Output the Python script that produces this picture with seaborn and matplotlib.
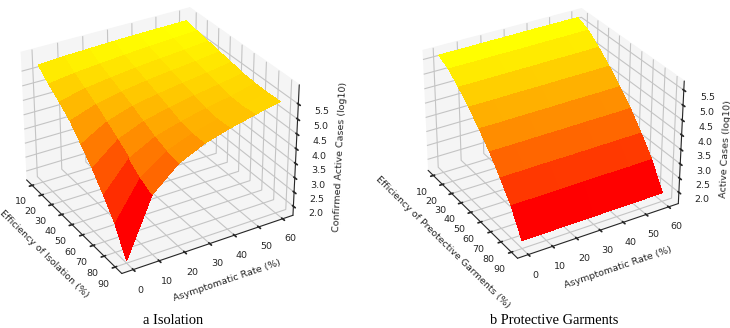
import numpy as np
import matplotlib
matplotlib.use("Agg")
import matplotlib.pyplot as plt
import seaborn as sns

efficiency = [10, 20, 30, 40, 50, 60, 70, 80, 90]
asymptomatic = [0, 10, 20, 30, 40, 50, 60]
z_ticks = [2.0, 2.5, 3.0, 3.5, 4.0, 4.5, 5.0, 5.5]

# rows: efficiency, columns: asymptomatic rate
isolation = [
    [5.78, 5.83, 5.86, 5.89, 5.91, 5.92, 5.93],
    [5.43, 5.55, 5.63, 5.70, 5.76, 5.81, 5.86],
    [5.13, 5.33, 5.45, 5.55, 5.63, 5.70, 5.78],
    [4.80, 5.10, 5.28, 5.41, 5.51, 5.60, 5.70],
    [4.33, 4.83, 5.10, 5.26, 5.39, 5.50, 5.63],
    [3.85, 4.55, 4.90, 5.11, 5.27, 5.40, 5.55],
    [3.28, 4.25, 4.70, 4.95, 5.15, 5.30, 5.51],
    [2.66, 3.95, 4.55, 4.88, 5.10, 5.28, 5.50],
    [1.76, 3.73, 4.48, 4.88, 5.13, 5.33, 5.51],
]
garments = [
    [5.71, 5.71, 5.72, 5.72, 5.73, 5.73, 5.73],
    [5.52, 5.52, 5.53, 5.53, 5.54, 5.54, 5.55],
    [5.19, 5.19, 5.20, 5.20, 5.21, 5.21, 5.22],
    [4.81, 4.81, 4.82, 4.82, 4.83, 4.83, 4.84],
    [4.38, 4.38, 4.39, 4.39, 4.40, 4.40, 4.41],
    [3.91, 3.91, 3.92, 3.92, 3.93, 3.93, 3.94],
    [3.35, 3.35, 3.36, 3.36, 3.37, 3.37, 3.38],
    [2.73, 2.73, 2.74, 2.74, 2.75, 2.75, 2.76],
    [1.88, 1.88, 1.89, 1.89, 1.90, 1.90, 1.91],
]

sns.set_theme(style="white", rc={
    "font.family": "DejaVu Sans",
    "text.color": "#262626",
    "grid.color": "#c4c4c4",
    "grid.linewidth": 0.8,
    "axes.linewidth": 0.8,
    "xtick.color": "#262626",
    "ytick.color": "#262626",
})
cmap = sns.color_palette("autumn", as_cmap=True)

fig = plt.figure(figsize=(7.3, 3.28), dpi=100)


def panel(rect, values, xlabel, zlabel, zlim, elev, azim):
    ax = fig.add_axes(rect, projection="3d")
    X, Y = np.meshgrid(asymptomatic, efficiency)
    ax.plot_surface(Y, X, np.array(values), cmap=cmap, linewidth=0, antialiased=False,
                    rstride=1, cstride=1)
    ax.view_init(elev=elev, azim=azim)
    ax.set_xticks(efficiency)
    ax.set_yticks(asymptomatic)
    ax.set_zticks(z_ticks)
    ax.set_zticklabels([f"{v:.1f}" for v in z_ticks])
    ax.set_zlim(*zlim)
    ax.tick_params(labelsize=6.8, pad=0)
    ax.tick_params(axis="z", pad=1.5)
    ax.set_xlabel(xlabel, fontsize=6.8, labelpad=-2)
    ax.set_ylabel("Asymptomatic Rate (%)", fontsize=6.8, labelpad=-2)
    ax.set_zlabel(zlabel, fontsize=6.8, labelpad=-3)
    for axis in (ax.xaxis, ax.yaxis, ax.zaxis):
        axis.set_pane_color((0.96, 0.96, 0.96, 1.0))
        axis.line.set_color("#262626")
        axis.line.set_linewidth(0.8)
    return ax


panel([-0.0475, 0.108, 0.515, 0.94], isolation, "Efficiency of Isolation (%)",
      "Confirmed Active Cases (log10)", (1.68, 6.13), 30, -31)
panel([0.507, 0.158, 0.485, 0.883], garments, "Efficiency of Preotective Garments (%)",
      "Active Cases (log10)", (1.6, 5.8), 30, -31)

fig.text(173 / 730, 1 - 321 / 328, "a Isolation", family="Liberation Serif", fontsize=10.4,
         ha="center", va="center", color="black")
fig.text(554 / 730, 1 - 321 / 328, "b Protective Garments", family="Liberation Serif", fontsize=10.4,
         ha="center", va="center", color="black")

fig.savefig("out.png", dpi=100)
